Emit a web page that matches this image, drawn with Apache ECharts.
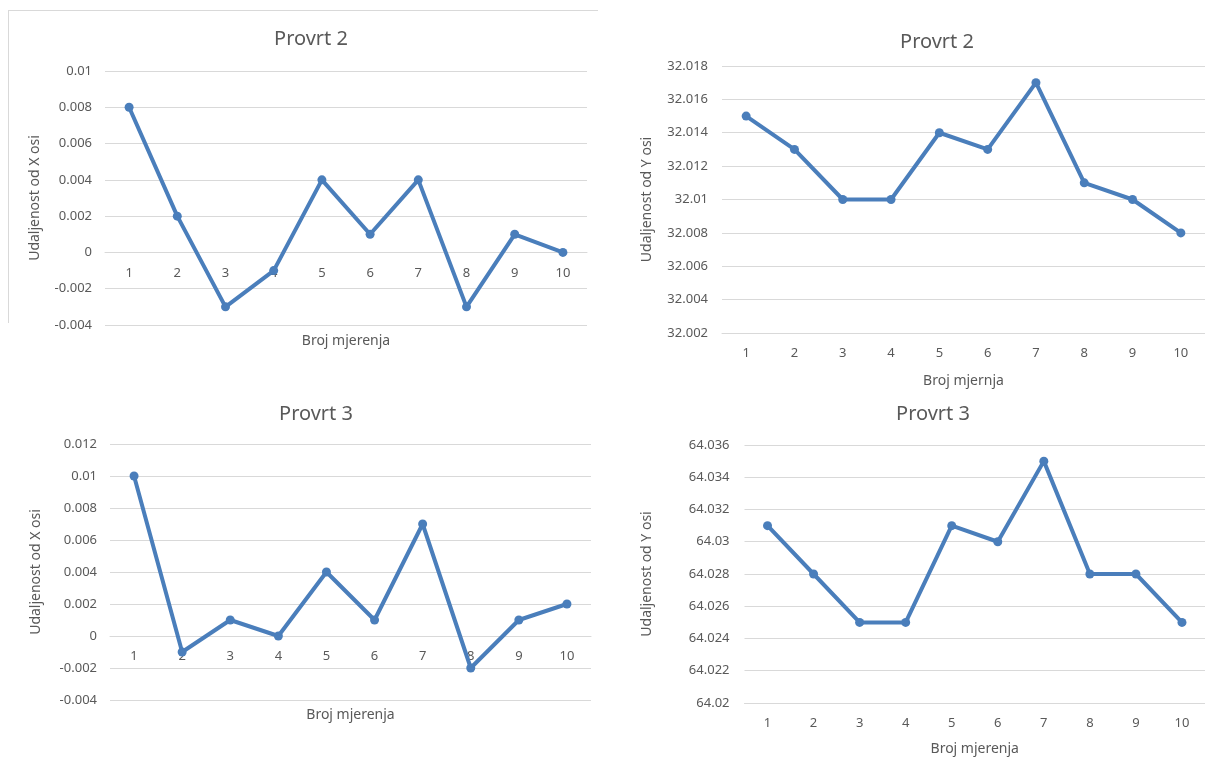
<!DOCTYPE html>
<html>
<head>
<meta charset="utf-8">
<script src="https://cdn.jsdelivr.net/npm/echarts@6/dist/echarts.min.js"></script>
<style>
html,body{margin:0;padding:0;background:#fff;}
#c{width:1205px;height:757px;}
</style>
</head>
<body>
<div id="c"></div>
<script>
var categories = ['1','2','3','4','5','6','7','8','9','10'];
var titles = ['Provrt 2', 'Provrt 2', 'Provrt 3', 'Provrt 3'];
var yNames = ['Udaljenost od X osi', 'Udaljenost od Y osi', 'Udaljenost od X osi', 'Udaljenost od Y osi'];
var xNames = ['Broj mjerenja', 'Broj mjernja', 'Broj mjerenja', 'Broj mjerenja'];
var provrt2X = [0.008, 0.002, -0.003, -0.001, 0.004, 0.001, 0.004, -0.003, 0.001, 0];
var provrt2Y = [32.015, 32.013, 32.010, 32.010, 32.014, 32.013, 32.017, 32.011, 32.010, 32.008];
var provrt3X = [0.010, -0.001, 0.001, 0, 0.004, 0.001, 0.007, -0.002, 0.001, 0.002];
var provrt3Y = [64.031, 64.028, 64.025, 64.025, 64.031, 64.030, 64.035, 64.028, 64.028, 64.025];
var yMins = [-0.004, 32.002, -0.004, 64.020];
var yMaxs = [0.010, 32.018, 0.012, 64.036];
var yStep = 0.002;

var seriesData = [provrt2X, provrt2Y, provrt3X, provrt3Y];

// layout (positions only)
var grids = [
  {left:105, top:71, width:482, height:254},
  {left:722, top:66, width:501, height:267},
  {left:110, top:444, width:481, height:256},
  {left:744.5, top:445, width:469, height:264}
];
// category axis drawn across the zero line for the X-deviation charts
var xOffset = [-72.6, 0, -64, 0];
var titlePos = [[306, 24], [932, 27], [311, 399], [928, 399]];
var yNameGap = [63, 68, 67, 90];
var xNameGap = [82, 41, 72, 39];
var yLabelMargin = [13, 14, 13, 15];

var font = 'Noto Sans';
var textColor = '#595959';
var gridColor = '#d9d9d9';
var lineColor = '#4a7ebb';

var option = {
  backgroundColor: '#fff',
  animation: false,
  textStyle: {fontFamily: font},
  title: titles.map(function(t, i){
    return {text: t, left: titlePos[i][0], top: titlePos[i][1], textAlign: 'center',
      textStyle: {fontFamily: font, fontSize: 20, fontWeight: 'normal', color: textColor}};
  }),
  grid: grids.map(function(g){ return Object.assign({containLabel:false}, g); }),
  xAxis: grids.map(function(g, i){
    return {
      type: 'category', gridIndex: i, data: categories, boundaryGap: true,
      position: 'bottom', offset: xOffset[i],
      name: xNames[i], nameLocation: 'middle', nameGap: xNameGap[i],
      nameTextStyle: {fontFamily: font, fontSize: 14, color: textColor},
      axisLine: {show: true, onZero: false, lineStyle: {color: gridColor, width: 1}},
      axisTick: {show: false},
      axisLabel: {fontFamily: font, fontSize: 13, color: textColor, margin: 14, interval: 0},
      splitLine: {show: false}
    };
  }),
  yAxis: grids.map(function(g, i){
    return {
      type: 'value', gridIndex: i, min: yMins[i], max: yMaxs[i], interval: yStep,
      name: yNames[i], nameLocation: 'middle', nameGap: yNameGap[i], nameRotate: 90,
      nameTextStyle: {fontFamily: font, fontSize: 14, color: textColor},
      axisLine: {show: false}, axisTick: {show: false},
      axisLabel: {fontFamily: font, fontSize: 13, color: textColor, margin: yLabelMargin[i],
        formatter: function(v){ return String(parseFloat(Number(v).toFixed(3))); }},
      splitLine: {show: true, lineStyle: {color: gridColor, width: 1}}
    };
  }),
  series: seriesData.map(function(d, i){
    return {
      type: 'line', xAxisIndex: i, yAxisIndex: i, data: d,
      symbol: 'circle', symbolSize: 9, showSymbol: true,
      lineStyle: {color: lineColor, width: 4},
      itemStyle: {color: lineColor},
      z: 5
    };
  }),
  graphic: [
    {type: 'line', shape: {x1: 8, y1: 10.5, x2: 598, y2: 10.5}, style: {stroke: gridColor, lineWidth: 1}},
    {type: 'line', shape: {x1: 8.5, y1: 10, x2: 8.5, y2: 323}, style: {stroke: gridColor, lineWidth: 1}}
  ]
};

var chart = echarts.init(document.getElementById('c'), null, {renderer: 'canvas'});
chart.setOption(option);
</script>
</body>
</html>
